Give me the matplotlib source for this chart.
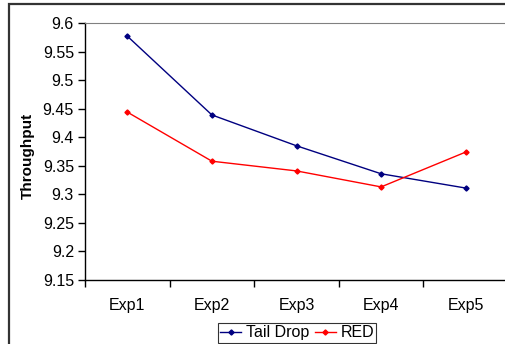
import matplotlib
matplotlib.use("Agg")
import matplotlib.pyplot as plt
from matplotlib.patches import Rectangle

categories = ["Exp1", "Exp2", "Exp3", "Exp4", "Exp5"]
tail_drop = [9.577, 9.439, 9.385, 9.336, 9.311]
red = [9.444, 9.358, 9.341, 9.313, 9.374]
yticks = [9.15, 9.2, 9.25, 9.3, 9.35, 9.4, 9.45, 9.5, 9.55, 9.6]
ytick_labels = ["9.15", "9.2", "9.25", "9.3", "9.35", "9.4", "9.45", "9.5", "9.55", "9.6"]

plt.rcParams['font.family'] = ['Liberation Sans', 'DejaVu Sans']

W, H = 506, 344
fig = plt.figure(figsize=(W/100, H/100), dpi=100)

# outer frame (extends beyond right/bottom edges)
fig.patches.append(Rectangle((9/W, -0.1), 1.2, 1 - 4/H + 0.1, transform=fig.transFigure,
                             fill=False, edgecolor='#333333', linewidth=1.6))

ax = fig.add_axes([85/W, 1 - 280/H, 423/W, 257/H])
x = [i + 0.5 for i in range(len(categories))]
ax.plot(x, tail_drop, color='#000080', marker='D', markersize=2.6, linewidth=1.0, label='Tail Drop')
ax.plot(x, red, color='#ff0000', marker='D', markersize=2.6, linewidth=1.0, label='RED')

ax.set_xlim(0, len(categories))
ax.set_ylim(9.15, 9.6)
ax.set_yticks(yticks)
ax.set_yticklabels(ytick_labels, fontsize=11.5)
ax.set_xticks(range(len(categories) + 1))
ax.set_xticklabels([])
ax.set_xticks(x, minor=True)
ax.set_xticklabels(categories, minor=True, fontsize=11.5)
ax.tick_params(axis='x', which='major', direction='out', length=5, width=1)
ax.tick_params(axis='x', which='minor', length=0, pad=13)
ax.tick_params(axis='y', direction='out', length=5, width=1, pad=3)

ax.spines['right'].set_visible(False)
ax.spines['top'].set_color('#808080')
ax.spines['left'].set_linewidth(1)
ax.spines['bottom'].set_linewidth(1)

fig.text(28/W, 1 - 156/H, "Throughput", rotation=90, fontsize=11, fontweight='bold',
         ha='center', va='center')

leg = fig.legend(loc='upper left', bbox_to_anchor=(218/W, 1 - 323/H), ncol=2,
                 fontsize=11.5, frameon=True, fancybox=False, edgecolor='black',
                 handlelength=1.3, handletextpad=0.3, columnspacing=0.35,
                 borderpad=0.15, borderaxespad=0)
leg.get_frame().set_linewidth(0.8)

fig.savefig("out.png", dpi=100)
